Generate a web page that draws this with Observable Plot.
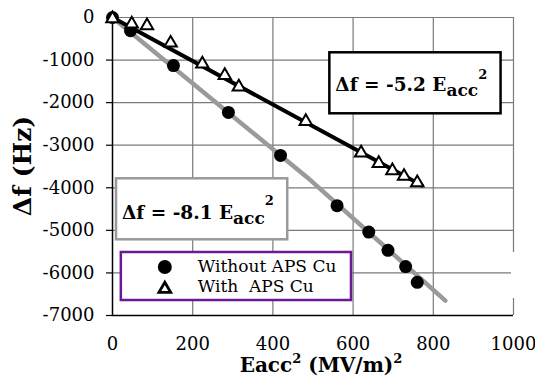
<!DOCTYPE html>
<html><head><meta charset="utf-8">
<script src="https://cdn.jsdelivr.net/npm/d3@7"></script>
<script src="https://cdn.jsdelivr.net/npm/@observablehq/plot@0.6"></script>
<style>
html,body{margin:0;padding:0;background:#fff;}
svg text{font-family:"DejaVu Serif","Liberation Serif",serif;}
</style>
</head><body><div id="chart"></div>
<script>
// ---- data ----
const seriesNames = ["Without APS Cu", "With  APS Cu"];
const eacc2Without = [0, 45, 152, 289, 419, 560, 639, 687, 731, 760];
const dfWithout    = [0, -310, -1130, -2230, -3240, -4420, -5040, -5470, -5850, -6220];
const eacc2With = [0, 48, 86, 145, 224, 280, 315, 482, 620, 664, 698, 727, 760];
const dfWith    = [-30, -150, -190, -600, -1090, -1360, -1630, -2440, -3180, -3430, -3600, -3730, -3880];
const fitWithoutX = [0, 485, 830];
const fitWithoutY = [0, -3750, -6650];
const fitWithX = [0, 772];
const fitWithY = [0, -3946];
const fitSlopes = ["-8.1", "-5.2"];
const xTicks = [0, 200, 400, 600, 800, 1000];
const yTicks = [0, -1000, -2000, -3000, -4000, -5000, -6000, -7000];

const without = eacc2Without.map((x, i) => ({x, y: dfWithout[i]}));
const withCu = eacc2With.map((x, i) => ({x, y: dfWith[i]}));
const fitA = fitWithoutX.map((x, i) => ({x, y: fitWithoutY[i]}));
const fitB = fitWithX.map((x, i) => ({x, y: fitWithY[i]}));

const FONT = "DejaVu Serif, Liberation Serif, serif";

const plot = Plot.plot({
  width: 535, height: 387,
  marginTop: 17, marginBottom: 72, marginLeft: 112, marginRight: 22,
  x: {domain: [0, 1000]},
  y: {domain: [-7000, 0]},
  style: {fontFamily: FONT, fontSize: "18px", color: "black", background: "white"},
  marks: [
    Plot.ruleY(yTicks.filter(d => d !== -7000), {stroke: "#7a7a7a", strokeWidth: 1.2}),
    Plot.ruleX(xTicks.filter(d => d !== 0), {stroke: "#7a7a7a", strokeWidth: 1.2}),
    Plot.ruleX([0], {stroke: "black", strokeWidth: 1.5}),
    Plot.ruleY([-7000], {stroke: "black", strokeWidth: 1.5}),
    Plot.axisY({ticks: yTicks, tickSize: 6, tickPadding: 12, tickFormat: d => String(d), label: null, strokeWidth: 1.2}),
    Plot.axisX({ticks: xTicks, tickSize: 0, tickPadding: 22, tickFormat: d => String(d), label: null}),
    Plot.line(fitA, {x: "x", y: "y", stroke: "#9a9a9a", strokeWidth: 4.5}),
    Plot.line(fitB, {x: "x", y: "y", stroke: "black", strokeWidth: 4}),
    Plot.dot(without, {x: "x", y: "y", r: 6.5, fill: "black", symbol: "circle"}),
    Plot.dot(withCu, {x: "x", y: "y", r: 4.6, fill: "white", stroke: "black", strokeWidth: 2, symbol: "triangle"})
  ]
});
document.getElementById("chart").appendChild(plot);

const svg = d3.select(plot);
const sx = v => plot.scale("x").apply(v);
const sy = v => plot.scale("y").apply(v);
const g = svg.append("g").attr("text-anchor", "start");

// gap in right border (as in reference)
g.append("rect").attr("x", sx(1000) - 2).attr("y", sy(-5520)).attr("width", 4).attr("height", sy(-6601) - sy(-5520)).attr("fill", "white");

function eqBox(x0, x1, y0, y1, stroke, slope, baseOff, supOff) {
  const X0 = sx(x0), X1 = sx(x1), Y0 = sy(y0), Y1 = sy(y1);
  g.append("rect").attr("x", X0).attr("y", Y0).attr("width", X1 - X0).attr("height", Y1 - Y0)
    .attr("fill", "white").attr("stroke", stroke).attr("stroke-width", 2.5);
  const t = g.append("text").attr("x", X0 + 6).attr("y", Y0 + baseOff)
    .attr("font-weight", "bold").attr("font-size", 18.5).attr("fill", "black");
  t.append("tspan").style("white-space", "pre").text(`Δf = ${slope} E`);
  t.append("tspan").attr("font-size", 17).attr("dy", 5).text("acc");
  t.append("tspan").attr("font-size", 13).attr("dy", -5 - supOff).text("2");
}
eqBox(542, 969, -829, -2262, "black", fitSlopes[1], 38.5, 12);
eqBox(10, 437, -3789, -5222, "#9a9a9a", fitSlopes[0], 41, 14);

// legend
{
  const X0 = sx(22), X1 = sx(596), Y0 = sy(-5520), Y1 = sy(-6648);
  g.append("rect").attr("x", X0).attr("y", Y0).attr("width", X1 - X0).attr("height", Y1 - Y0)
    .attr("fill", "white").attr("stroke", "#6a1a94").attr("stroke-width", 2.5);
  g.append("circle").attr("cx", X0 + 44).attr("cy", Y0 + 15).attr("r", 7).attr("fill", "black");
  g.append("path").attr("d", d3.symbol(d3.symbolTriangle, 60)())
    .attr("transform", `translate(${X0 + 44},${Y0 + 37})`).attr("fill", "white").attr("stroke", "black").attr("stroke-width", 2.8);
  seriesNames.forEach((name, i) => {
    g.append("text").attr("x", X0 + 77).attr("y", Y0 + 20 + i * 20).attr("font-size", 17)
      .style("white-space", "pre").attr("fill", "black").text(name);
  });
}

// axis titles
{
  const t = g.append("text").attr("text-anchor", "middle").attr("x", 321).attr("y", 372)
    .attr("font-weight", "bold").attr("font-size", 20).attr("fill", "black");
  t.append("tspan").text("Eacc");
  t.append("tspan").attr("font-size", 13).attr("dy", -9).text("2");
  t.append("tspan").attr("dy", 9).style("white-space", "pre").text(" (MV/m)");
  t.append("tspan").attr("font-size", 13).attr("dy", -9).text("2");
  g.append("text").attr("text-anchor", "middle").attr("transform", "translate(31,166) rotate(-90)")
    .attr("font-weight", "bold").attr("font-size", 25).attr("fill", "black")
    .text("Δf (Hz)");
}
</script>
</body></html>
